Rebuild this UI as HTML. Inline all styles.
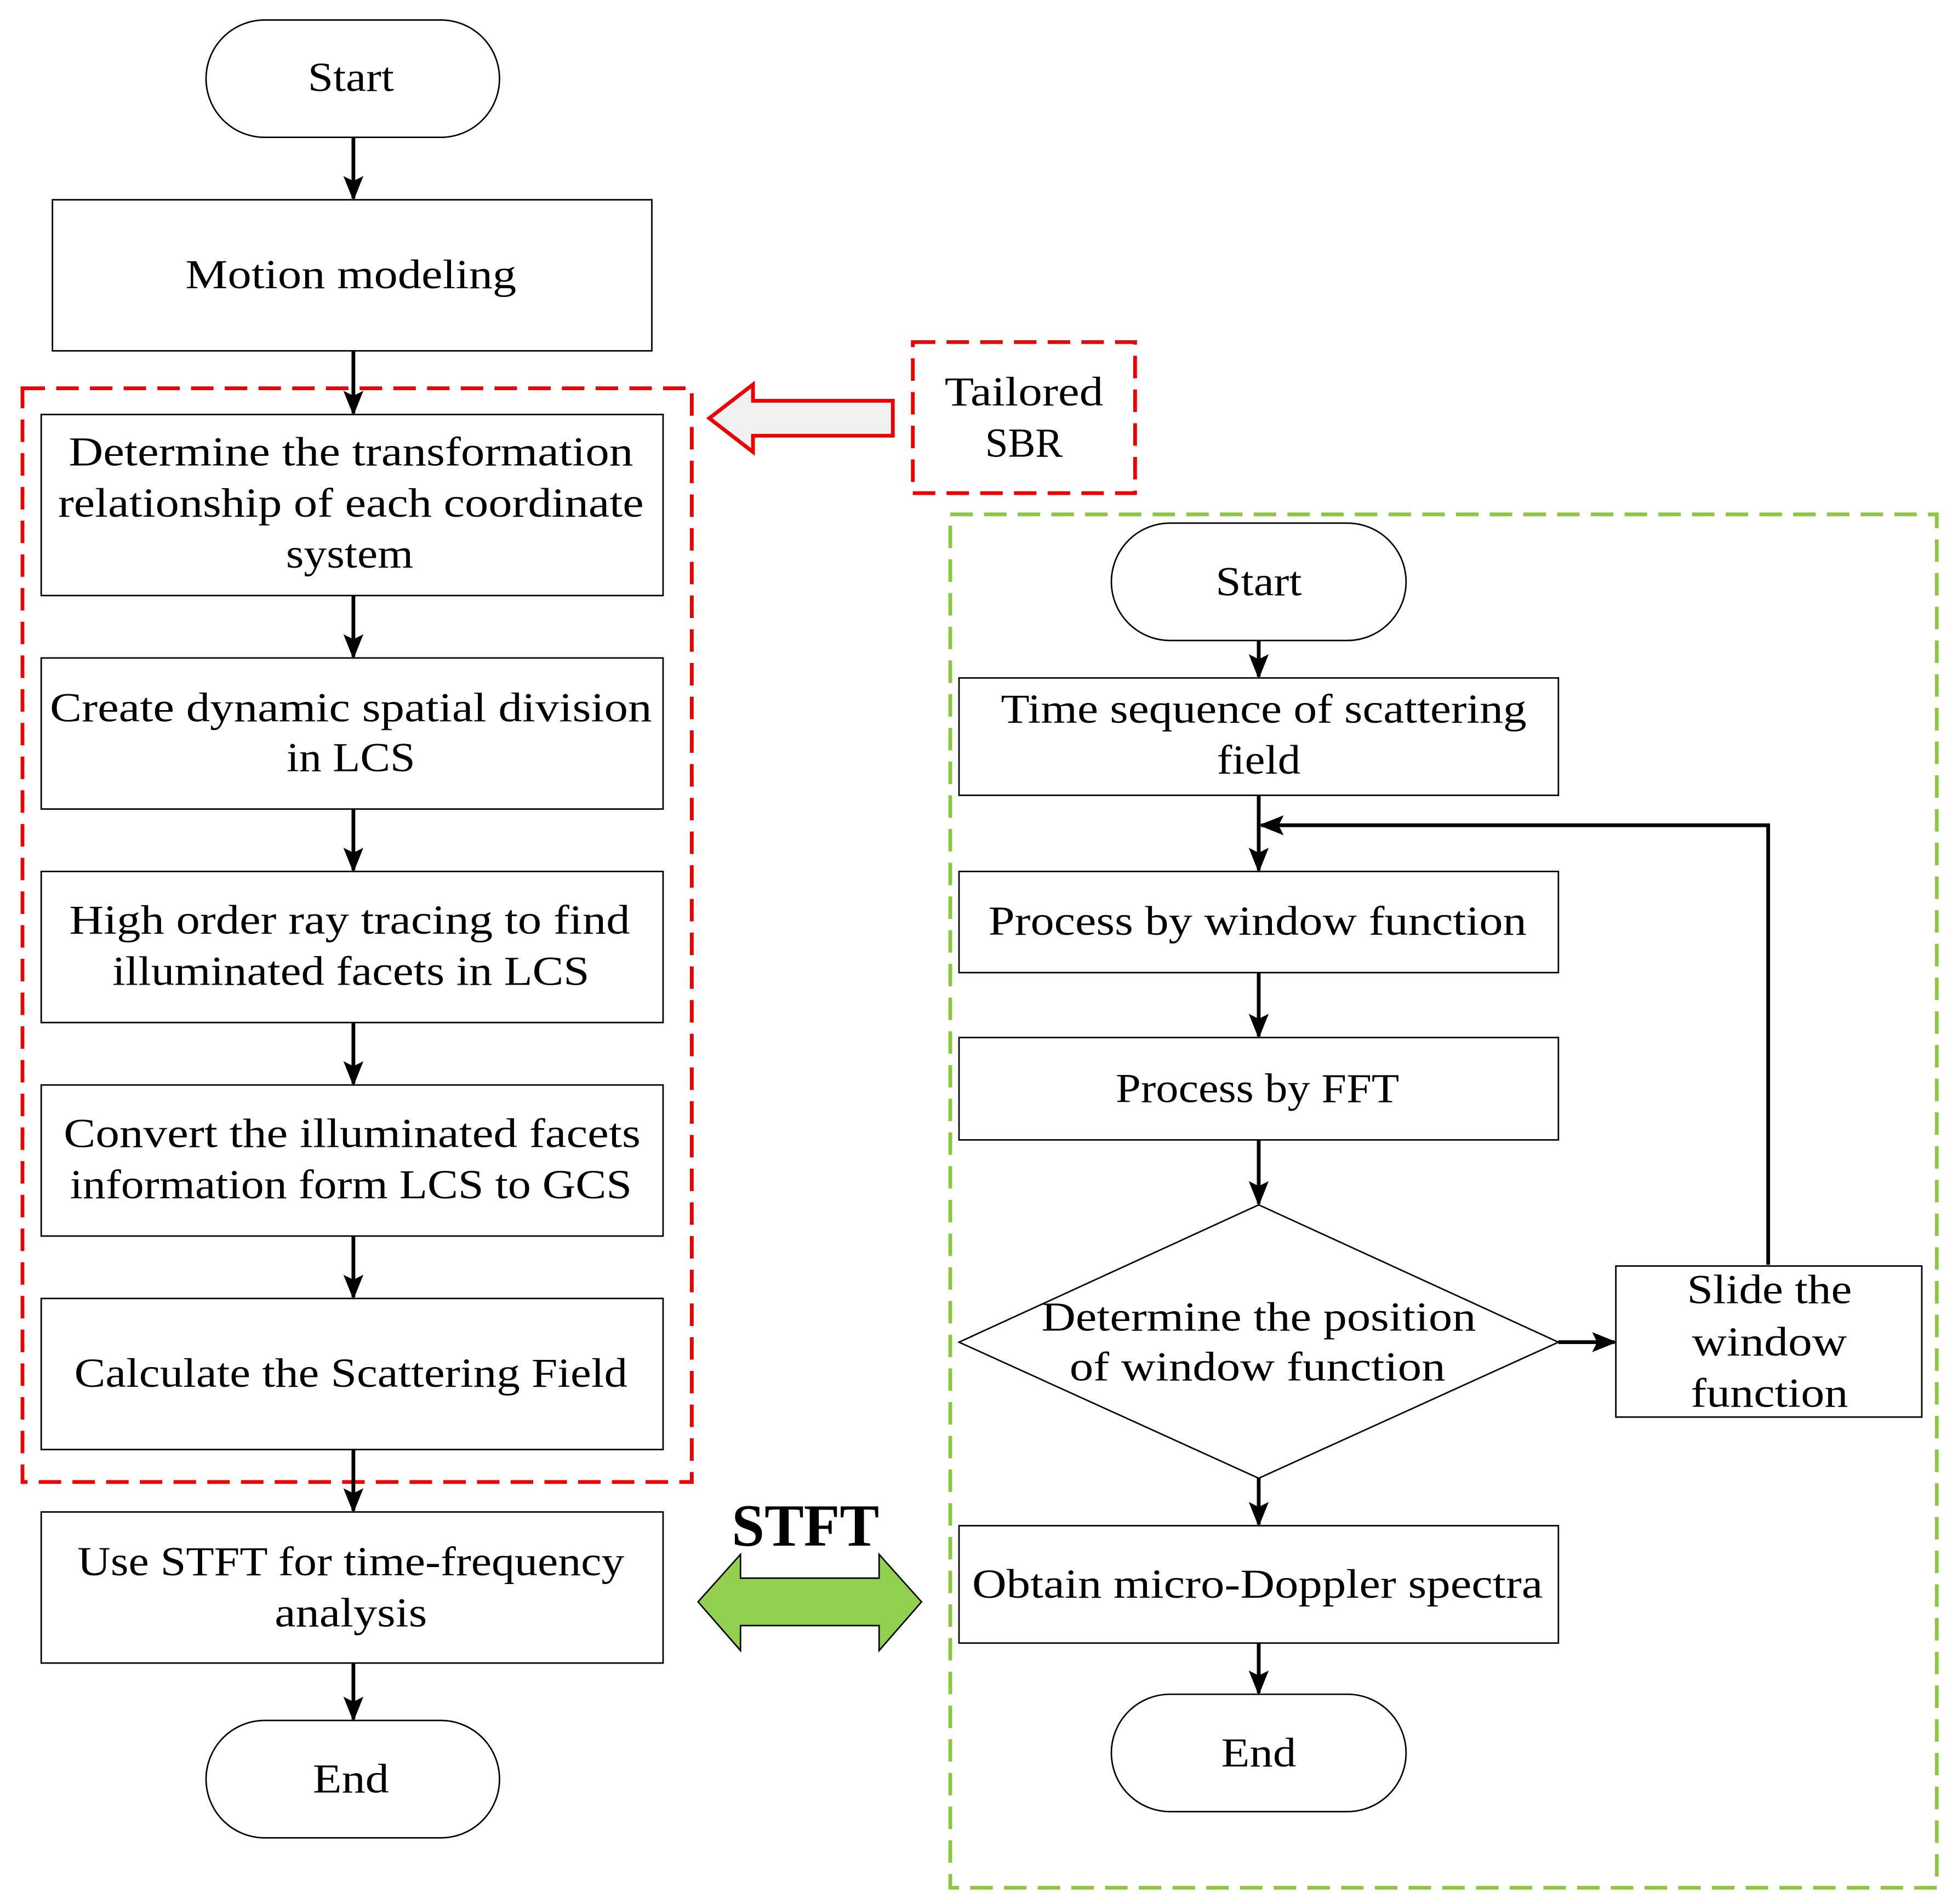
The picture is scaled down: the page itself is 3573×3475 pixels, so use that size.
<!DOCTYPE html>
<html><head><meta charset="utf-8"><style>html,body{margin:0;padding:0;background:#fff}svg{display:block}</style></head><body>
<svg xmlns="http://www.w3.org/2000/svg" width="3573" height="3475" viewBox="0 0 1568 1525">
<defs>
<marker id="b" markerWidth="20" markerHeight="20" refX="18" refY="10" orient="auto" markerUnits="userSpaceOnUse" viewBox="0 0 20 20"><path d="M0,2 L20,10 L0,18 L4,10 Z" fill="#000"/></marker></defs>
<rect width="1568" height="1525" fill="#fff"/>
<g fill="#fff" stroke="#000" stroke-width="1.2">
<rect x="165" y="16" width="235" height="94" rx="47"/>
<rect x="42" y="160" width="480" height="121"/>
<rect x="33" y="332" width="498" height="145"/>
<rect x="33" y="527" width="498" height="121"/>
<rect x="33" y="698" width="498" height="121"/>
<rect x="33" y="869" width="498" height="121"/>
<rect x="33" y="1040" width="498" height="121"/>
<rect x="33" y="1211" width="498" height="121"/>
<rect x="165" y="1378" width="235" height="94" rx="47"/>
<rect x="890" y="419" width="236" height="94" rx="47"/>
<rect x="768" y="543" width="480" height="94"/>
<rect x="768" y="698" width="480" height="81"/>
<rect x="768" y="831" width="480" height="82"/>
<path d="M1008,965 L1248,1075 L1008,1184 L768,1075 Z"/>
<rect x="1294" y="1014" width="245" height="121"/>
<rect x="768" y="1222" width="480" height="94"/>
<rect x="890" y="1357" width="236" height="94" rx="47"/>
</g>
<rect x="18" y="311" width="536" height="876" fill="none" stroke="#e00" stroke-width="3" stroke-dasharray="18,9"/>
<rect x="731" y="274" width="178" height="121" fill="none" stroke="#e00" stroke-width="3" stroke-dasharray="18,9"/>
<rect x="761" y="412" width="790" height="1100" fill="none" stroke="#8dc63f" stroke-width="3" stroke-dasharray="18,9"/>
<path d="M568,335 L603,308 L603,321 L715,321 L715,349 L603,349 L603,362 Z" fill="#f0f0f0" stroke="#e00" stroke-width="3"/>
<path d="M559,1283 L593,1245 L593,1264 L704,1264 L704,1245 L738,1283 L704,1322 L704,1302 L593,1302 L593,1322 Z" fill="#92d050" stroke="#000" stroke-width="1.2"/>
<g stroke="#000" stroke-width="3" fill="none" marker-end="url(#b)">
<line x1="283" y1="110" x2="283" y2="159"/>
<line x1="283" y1="281" x2="283" y2="331"/>
<line x1="283" y1="477" x2="283" y2="526"/>
<line x1="283" y1="648" x2="283" y2="697"/>
<line x1="283" y1="819" x2="283" y2="868"/>
<line x1="283" y1="990" x2="283" y2="1039"/>
<line x1="283" y1="1161" x2="283" y2="1210"/>
<line x1="283" y1="1332" x2="283" y2="1377"/>
<line x1="1008" y1="513" x2="1008" y2="542"/>
<line x1="1008" y1="637" x2="1008" y2="697"/>
<line x1="1008" y1="779" x2="1008" y2="830"/>
<line x1="1008" y1="913" x2="1008" y2="964"/>
<line x1="1248" y1="1075" x2="1293" y2="1075"/>
<line x1="1008" y1="1184" x2="1008" y2="1221"/>
<line x1="1008" y1="1316" x2="1008" y2="1356"/>
<polyline points="1416,1013 1416,661 1010,661"/>
</g>
<g font-family="'Liberation Serif',serif" font-size="33" text-anchor="middle" dominant-baseline="central" fill="#000" lengthAdjust="spacingAndGlyphs">
<text x="281" y="62" textLength="69" lengthAdjust="spacingAndGlyphs">Start</text>
<text x="281" y="220" textLength="265" lengthAdjust="spacingAndGlyphs">Motion modeling</text>
<text x="281" y="362" textLength="452" lengthAdjust="spacingAndGlyphs">Determine the transformation</text>
<text x="281" y="403" textLength="469" lengthAdjust="spacingAndGlyphs">relationship of each coordinate</text>
<text x="280" y="444" textLength="102" lengthAdjust="spacingAndGlyphs">system</text>
<text x="281" y="567" textLength="482" lengthAdjust="spacingAndGlyphs">Create dynamic spatial division</text>
<text x="281" y="607" textLength="103" lengthAdjust="spacingAndGlyphs">in LCS</text>
<text x="280" y="737" textLength="449" lengthAdjust="spacingAndGlyphs">High order ray tracing to find</text>
<text x="281" y="778" textLength="382" lengthAdjust="spacingAndGlyphs">illuminated facets in LCS</text>
<text x="282" y="908" textLength="462" lengthAdjust="spacingAndGlyphs">Convert the illuminated facets</text>
<text x="281" y="949" textLength="450" lengthAdjust="spacingAndGlyphs">information form LCS to GCS</text>
<text x="281" y="1100" textLength="443" lengthAdjust="spacingAndGlyphs">Calculate the Scattering Field</text>
<text x="281" y="1251" textLength="438" lengthAdjust="spacingAndGlyphs">Use STFT for time-frequency</text>
<text x="281" y="1292" textLength="122" lengthAdjust="spacingAndGlyphs">analysis</text>
<text x="281" y="1425" textLength="61" lengthAdjust="spacingAndGlyphs">End</text>
<text x="820" y="314" textLength="127" lengthAdjust="spacingAndGlyphs">Tailored</text>
<text x="820" y="355" textLength="62" lengthAdjust="spacingAndGlyphs">SBR</text>
<text x="1008" y="466" textLength="69" lengthAdjust="spacingAndGlyphs">Start</text>
<text x="1012" y="568" textLength="421" lengthAdjust="spacingAndGlyphs">Time sequence of scattering</text>
<text x="1008" y="609" textLength="67" lengthAdjust="spacingAndGlyphs">field</text>
<text x="1007" y="738" textLength="431" lengthAdjust="spacingAndGlyphs">Process by window function</text>
<text x="1007" y="872" textLength="227" lengthAdjust="spacingAndGlyphs">Process by FFT</text>
<text x="1008" y="1055" textLength="348" lengthAdjust="spacingAndGlyphs">Determine the position</text>
<text x="1007" y="1095" textLength="301" lengthAdjust="spacingAndGlyphs">of window function</text>
<text x="1417" y="1033" textLength="132" lengthAdjust="spacingAndGlyphs">Slide the</text>
<text x="1417" y="1075" textLength="124" lengthAdjust="spacingAndGlyphs">window</text>
<text x="1417" y="1116" textLength="126" lengthAdjust="spacingAndGlyphs">function</text>
<text x="1007" y="1269" textLength="457" lengthAdjust="spacingAndGlyphs">Obtain micro-Doppler spectra</text>
<text x="1008" y="1404" textLength="60" lengthAdjust="spacingAndGlyphs">End</text>
<text x="645" y="1222" font-size="48" font-weight="bold" textLength="118" lengthAdjust="spacingAndGlyphs">STFT</text>
</g>
</svg>
</body></html>
